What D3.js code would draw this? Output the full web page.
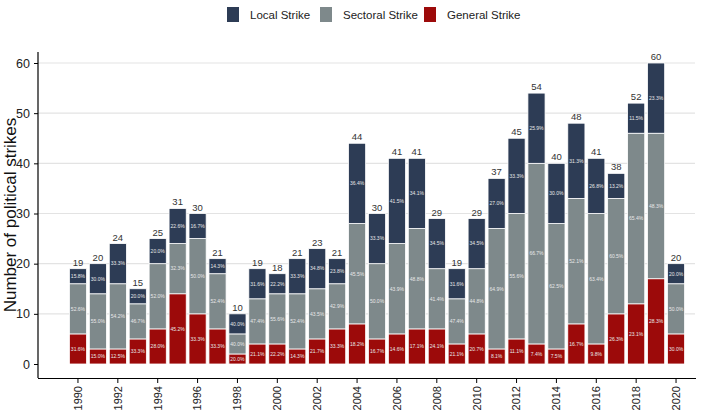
<!DOCTYPE html>
<html><head><meta charset="utf-8">
<script src="https://cdn.jsdelivr.net/npm/d3@7"></script>
<style>body{margin:0;background:#fff;}svg{display:block;font-family:"Liberation Sans",Arial,sans-serif;}</style>
</head><body><svg id="c" width="702" height="412"></svg>
<script>
const years = [1990,1991,1992,1993,1994,1995,1996,1997,1998,1999,2000,2001,2002,2003,2004,2005,2006,2007,2008,2009,2010,2011,2012,2013,2014,2015,2016,2017,2018,2019,2020];
const general  = [6,3,3,5,7,14,10,7,2,4,4,3,5,7,8,5,6,7,7,4,6,3,5,4,3,8,4,10,12,17,6];
const sectoral = [10,11,13,7,13,10,15,11,4,9,10,11,10,9,20,15,18,20,12,9,13,24,25,36,25,25,26,23,34,29,10];
const local    = [3,6,8,3,5,7,5,3,4,6,4,7,8,5,16,10,17,14,10,6,10,10,15,14,12,15,11,5,6,14,4];
const seriesNames = ["Local Strike","Sectoral Strike","General Strike"];
const colors = {"Local Strike":"#2d3c55","Sectoral Strike":"#7e898b","General Strike":"#9c0a0a"};
const yTicks = [0,10,20,30,40,50,60];
const xTickYears = years.filter(y => y % 2 === 0);

const svg = d3.select("#c");
const x = d3.scaleBand().domain(years).range([68, 686]).paddingInner(0.14).paddingOuter(0.07);
const y = d3.scaleLinear().domain([0, 60]).range([364, 63]);

// gridlines
svg.append("g").selectAll("line").data(yTicks.filter(d=>d>0)).join("line")
  .attr("x1", 38).attr("x2", 695).attr("y1", d=>y(d)).attr("y2", d=>y(d))
  .attr("stroke", "#e3e3e3").attr("stroke-width", 1.2);

const rows = years.map((yr,i)=>({year:yr, "General Strike":general[i], "Sectoral Strike":sectoral[i], "Local Strike":local[i], total:general[i]+sectoral[i]+local[i]}));
const stack = d3.stack().keys(["General Strike","Sectoral Strike","Local Strike"]);
const layers = stack(rows);

const g = svg.append("g");
layers.forEach(layer => {
  const key = layer.key;
  g.append("g").selectAll("rect").data(layer).join("rect")
    .attr("x", d => x(d.data.year))
    .attr("width", x.bandwidth())
    .attr("y", d => y(d[1]))
    .attr("height", d => y(d[0]) - y(d[1]))
    .attr("fill", colors[key])
    .attr("stroke", "#fff").attr("stroke-width", 0.8);
  g.append("g").selectAll("text").data(layer).join("text")
    .attr("x", d => x(d.data.year) + x.bandwidth()/2)
    .attr("y", d => (y(d[0]) + y(d[1]))/2 + 1.8)
    .attr("text-anchor", "middle")
    .attr("font-size", 5)
    .attr("fill", "#e8e8e8")
    .text(d => (d.data[key]/d.data.total*100).toFixed(1) + "%");
});

// totals
svg.append("g").selectAll("text").data(rows).join("text")
  .attr("x", d => x(d.year) + x.bandwidth()/2)
  .attr("y", d => y(d.total) - 3)
  .attr("text-anchor", "middle")
  .attr("font-size", 9.5)
  .attr("fill", "#333")
  .text(d => d.total);

// y axis
const yAxis = svg.append("g").attr("transform", "translate(38,0)")
  .call(d3.axisLeft(y).tickValues(yTicks).tickSize(4).tickPadding(4));
yAxis.select(".domain").remove();
yAxis.append("line").attr("x1",0).attr("x2",0).attr("y1",52).attr("y2",378).attr("stroke","#000").attr("stroke-width",1.2);
yAxis.selectAll(".tick text").attr("font-size", 12.5).attr("fill", "#222").attr("font-family","Liberation Sans, Arial, sans-serif");
yAxis.selectAll(".tick line").attr("stroke","#000");

// x axis
const xAxis = svg.append("g").attr("transform", "translate(0,378)")
  .call(d3.axisBottom(x).tickValues(xTickYears).tickSize(5).tickSizeOuter(0));
xAxis.select(".domain").attr("d", "M38,0.5H696").attr("stroke","#000").attr("stroke-width",1.2);
xAxis.selectAll(".tick line").attr("stroke","#000");
xAxis.selectAll(".tick text")
  .attr("font-size", 11).attr("fill", "#222").attr("font-family","Liberation Sans, Arial, sans-serif")
  .attr("transform", "rotate(-90)")
  .attr("text-anchor", "end")
  .attr("x", -8).attr("y", 0).attr("dy", "0.35em");

// y title
svg.append("text").attr("transform", "translate(16,215) rotate(-90)")
  .attr("text-anchor", "middle").attr("font-size", 17).attr("fill", "#111")
  .text("Number of political strikes");

// legend
const legendX = [227, 320, 424];
const lg = svg.append("g");
seriesNames.forEach((n, i) => {
  lg.append("rect").attr("x", legendX[i]).attr("y", 7).attr("width", 12).attr("height", 15).attr("fill", colors[n]);
  lg.append("text").attr("x", legendX[i] + 23).attr("y", 19).attr("font-size", 11.5).attr("fill", "#222").text(n);
});
</script></body></html>
